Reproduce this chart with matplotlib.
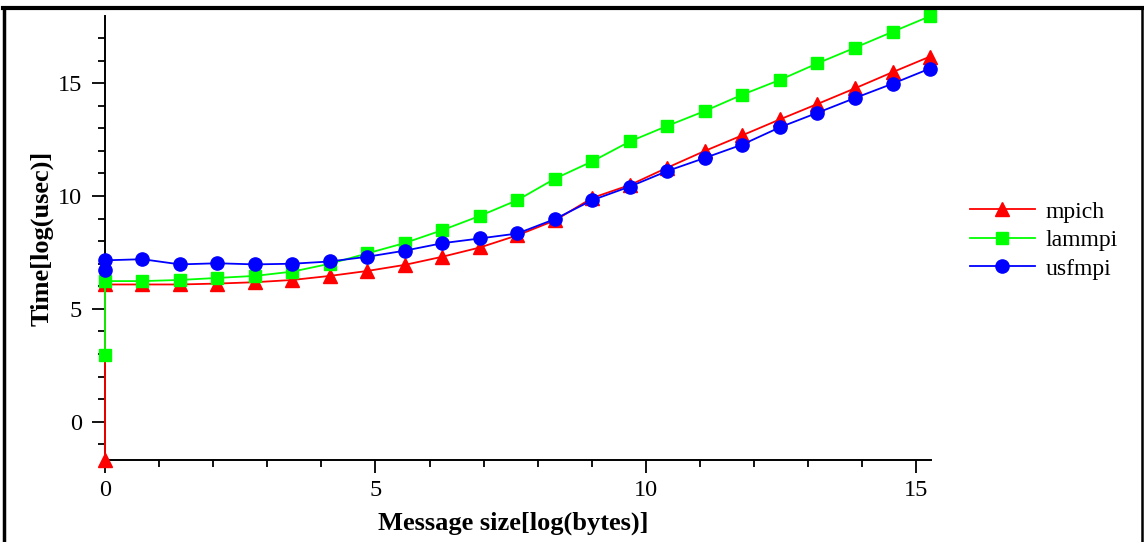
import numpy as np
import matplotlib
matplotlib.use("Agg")
import matplotlib.pyplot as plt
from matplotlib.lines import Line2D
from matplotlib.ticker import MultipleLocator

# x = ln(message size in bytes); first entry duplicated at 0
x_vals = [0.0, 0.0, 0.693, 1.386, 2.079, 2.773, 3.466, 4.159, 4.852, 5.545, 6.238,
          6.931, 7.625, 8.318, 9.011, 9.704, 10.397, 11.09, 11.78, 12.48,
          13.17, 13.86, 14.56, 15.25]

mpich = [-1.68, 6.08, 6.08, 6.08, 6.12, 6.18, 6.28, 6.46, 6.68, 6.95, 7.31,
         7.72, 8.26, 8.92, 9.92, 10.49, 11.26, 12.0, 12.69, 13.40,
         14.08, 14.77, 15.49, 16.18]
lammpi = [2.95, 6.23, 6.23, 6.28, 6.37, 6.46, 6.65, 7.0, 7.46, 7.92, 8.49,
          9.12, 9.82, 10.77, 11.54, 12.42, 13.11, 13.77, 14.49, 15.15,
          15.88, 16.57, 17.28, 17.97]
usfmpi = [6.73, 7.15, 7.2, 6.97, 7.02, 6.97, 7.0, 7.1, 7.31, 7.58, 7.91,
          8.12, 8.34, 8.98, 9.82, 10.42, 11.11, 11.69, 12.28, 13.05,
          13.69, 14.34, 14.98, 15.65]

series_names = ["mpich", "lammpi", "usfmpi"]
x_ticks = [0, 5, 10, 15]
y_ticks = [0, 5, 10, 15]

plt.rcParams['font.family'] = ['Liberation Serif', 'DejaVu Serif']

W, H = 1144, 542
fig = plt.figure(figsize=(W / 100, H / 100), dpi=100)

left_px, right_px, bottom_px, top_px = 105, 931, 460, 16
ax = fig.add_axes([left_px / W, 1 - bottom_px / H,
                   (right_px - left_px) / W, (bottom_px - top_px) / H])

LW = 1.3
ax.plot(x_vals, mpich, color='#ff0000', lw=LW, marker='^', ms=9.5, label=series_names[0],
        clip_on=False, zorder=3)
ax.plot(x_vals, lammpi, color='#00ff00', lw=LW, marker='s', ms=8.5, label=series_names[1],
        clip_on=False, zorder=4)
ax.plot(x_vals, usfmpi, color='#0000ff', lw=LW, marker='o', ms=9.5, label=series_names[2],
        clip_on=False, zorder=5)

ax.set_xlim(0, 15.27)
ax.set_ylim(-1.7, 17.98)
for s in ['top', 'right']:
    ax.spines[s].set_visible(False)
for s in ['left', 'bottom']:
    ax.spines[s].set_linewidth(1.4)
    ax.spines[s].set_zorder(2)

ax.set_xticks(x_ticks)
ax.set_yticks(y_ticks)
ax.xaxis.set_minor_locator(MultipleLocator(1))
ax.yaxis.set_minor_locator(MultipleLocator(1))
ax.tick_params(which='major', length=9.5, width=1.3, labelsize=17.5, direction='out')
ax.tick_params(axis='y', which='major', pad=7)
ax.tick_params(axis='x', which='major', pad=5)
ax.tick_params(which='minor', length=5, width=1.3, direction='out')

ax.set_xlabel("Message size[log(bytes)]", fontsize=19, fontweight='bold')
ax.xaxis.set_label_coords(0.494, -0.117)
ax.set_ylabel("Time[log(usec)]", fontsize=19, fontweight='bold', labelpad=3)

handles = [Line2D([0], [0], color='#ff0000', lw=LW, marker='^', ms=9.5),
           Line2D([0], [0], color='#00ff00', lw=LW, marker='s', ms=8.5),
           Line2D([0], [0], color='#0000ff', lw=LW, marker='o', ms=9.5)]
fig.legend(handles, series_names, loc='upper left',
           bbox_to_anchor=(970 / W, 1 - 201 / H), frameon=False, fontsize=17,
           handlelength=2.75, handletextpad=0.45, labelspacing=0.3, borderaxespad=0,
           borderpad=0)

# outer frame
fig.add_artist(Line2D([4 / W, 4 / W], [0, 1 - 8 / H], transform=fig.transFigure, color='black', lw=2.5))
fig.add_artist(Line2D([1142 / W, 1142 / W], [0, 1 - 8 / H], transform=fig.transFigure, color='black', lw=1.8))
fig.add_artist(Line2D([3 / W, 1143 / W], [1 - 8 / H, 1 - 8 / H], transform=fig.transFigure, color='black', lw=3))

fig.savefig("out.png", dpi=100)
